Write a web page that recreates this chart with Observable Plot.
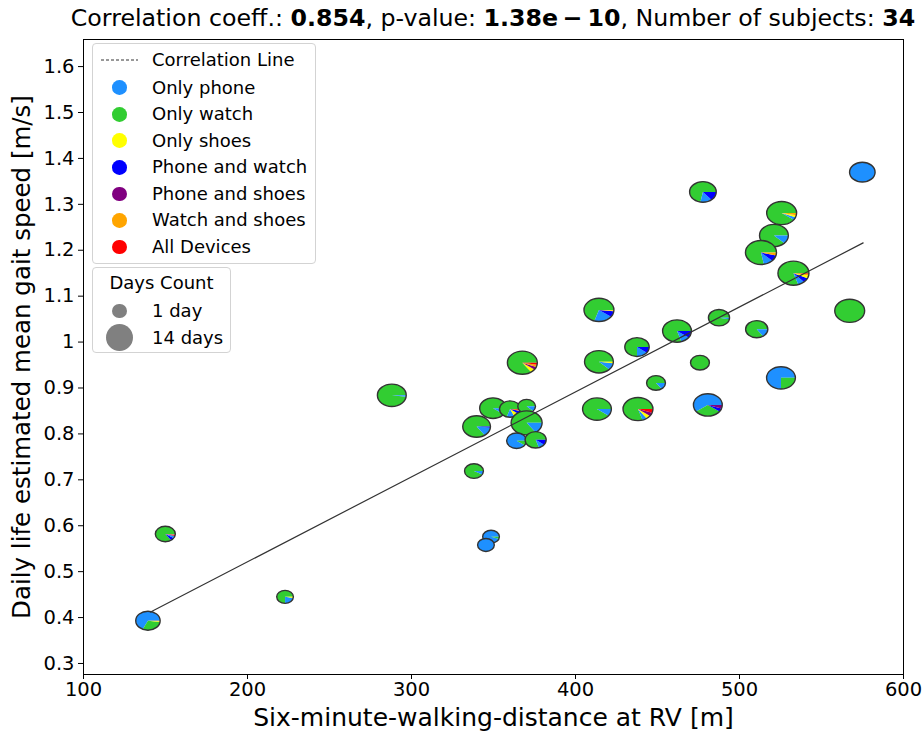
<!DOCTYPE html>
<html><head><meta charset="utf-8">
<script src="https://cdn.jsdelivr.net/npm/d3@7"></script>
<script src="https://cdn.jsdelivr.net/npm/@observablehq/plot@0.6"></script>
<style>
body{margin:0;background:#fff;font-family:"DejaVu Sans",sans-serif;color:#000;}
#wrap{position:relative;width:924px;height:733px;overflow:hidden;}
#title{position:relative;left:31px;height:34px;width:924px;text-align:center;font-size:23.7px;line-height:36px;white-space:nowrap;}
.lbox{position:absolute;border:1px solid #d3d3d3;border-radius:4px;background:rgba(255,255,255,0.85);box-sizing:border-box;}
.row{position:absolute;left:0;height:22px;line-height:22px;font-size:18px;white-space:nowrap;}
.dot{position:absolute;border-radius:50%;}
</style></head><body><div id="wrap"><div id="title"></div></div>
<script>
// ---- data ----
const sixMWD =     [139.6,150.2,223.2,288.3,340.0,350.0,360.4,370.5,370.5,364.4,376.0,367.9,338.4,348.8,345.7,414.6,414.6,413.4,438.4,437.8,449.4,462.2,476.2,478.0,487.8,481.0,510.8,526.0,521.3,513.4,533.2,575.2,567.5,525.6];
const gaitSpeed =  [0.392,0.581,0.444,0.883,0.815,0.855,0.853,0.859,0.823,0.784,0.786,0.954,0.718,0.575,0.557,1.069,0.956,0.853,0.853,0.988,0.910,1.023,0.954,1.326,1.052,0.862,1.027,1.280,1.231,1.194,1.149,1.369,1.067,0.921];
const daysCount =  [8,4,1,12,11,10,5,2,14,4,5,13,3,1,1,13,12,12,13,8,3,12,3,10,5,12,6,13,12,14,14,9,13,12];
// share of days per device combination (legend order)
const onlyPhone =      [0.68,0.05,0.22,0.02,0.13,0.10,0.12,0.12,0.15,0.90,0.10,0.00,0.08,0.95,1.00,0.20,0.10,0.10,0.05,0.15,0.15,0.10,0.00,0.14,0.03,0.60,0.15,0.04,0.12,0.10,0.07,1.00,0.00,0.75];
const onlyWatch =      [0.30,0.85,0.75,0.98,0.85,0.90,0.70,0.88,0.85,0.10,0.80,0.85,0.92,0.05,0.00,0.70,0.88,0.90,0.80,0.75,0.85,0.80,1.00,0.72,0.97,0.30,0.85,0.90,0.88,0.78,0.80,0.00,1.00,0.25];
const onlyShoes =      [0.01,0.01,0.03,0.00,0.00,0.00,0.08,0.00,0.00,0.00,0.00,0.05,0.00,0.00,0.00,0.01,0.02,0.00,0.05,0.00,0.00,0.00,0.00,0.00,0.00,0.00,0.00,0.03,0.00,0.00,0.04,0.00,0.00,0.00];
const phoneAndWatch =  [0.00,0.06,0.00,0.00,0.02,0.00,0.06,0.00,0.00,0.00,0.10,0.00,0.00,0.00,0.00,0.08,0.00,0.00,0.00,0.10,0.00,0.10,0.00,0.14,0.00,0.05,0.00,0.00,0.00,0.08,0.06,0.00,0.00,0.00];
const phoneAndShoes =  [0.00,0.01,0.00,0.00,0.00,0.00,0.00,0.00,0.00,0.00,0.00,0.04,0.00,0.00,0.00,0.00,0.00,0.00,0.05,0.00,0.00,0.00,0.00,0.00,0.00,0.05,0.00,0.00,0.00,0.00,0.00,0.00,0.00,0.00];
const watchAndShoes =  [0.01,0.00,0.00,0.00,0.00,0.00,0.02,0.00,0.00,0.00,0.00,0.03,0.00,0.00,0.00,0.01,0.00,0.00,0.00,0.00,0.00,0.00,0.00,0.00,0.00,0.00,0.00,0.03,0.00,0.04,0.02,0.00,0.00,0.00];
const allDevices =     [0.00,0.02,0.00,0.00,0.00,0.00,0.02,0.00,0.00,0.00,0.00,0.03,0.00,0.00,0.00,0.00,0.00,0.00,0.05,0.00,0.00,0.00,0.00,0.00,0.00,0.00,0.00,0.00,0.00,0.00,0.01,0.00,0.00,0.00];
const deviceLabels = ["Only phone","Only watch","Only shoes","Phone and watch","Phone and shoes","Watch and shoes","All Devices"];
const deviceColors = ["#1E90FF","#32CD32","#FFFF00","#0000FF","#800080","#FFA500","#FF0000"];
const corrLineX = [140.9, 575.4];
const corrLineY = [0.412, 1.216];
const xTicks = [100,200,300,400,500,600];
const yTicks = [0.3,0.4,0.5,0.6,0.7,0.8,0.9,1.0,1.1,1.2,1.3,1.4,1.5,1.6];
const daysLegend = [1, 14];
const titleParts = {r:"0.854", p:"1.38e\u2009\u2212\u200910", n:"34"};

// ---- build ----
const shares = [onlyPhone,onlyWatch,onlyShoes,phoneAndWatch,phoneAndShoes,watchAndShoes,allDevices];
const subjects = sixMWD.map((x,i)=>({x, y:gaitSpeed[i], days:daysCount[i], parts:shares.map(a=>a[i])}));
const lineData = corrLineX.map((x,i)=>({x, y:corrLineY[i]}));
const sizeScale = d3.scaleLinear().domain([1,14]).range([14.7,27.3]); // equivalent diameter, px

function pieMarks(index, scales, values, dim) {
  const g = d3.create("svg:g");
  const pw = dim.width - dim.marginLeft - dim.marginRight;
  const ph = dim.height - dim.marginTop - dim.marginBottom;
  const k = Math.sqrt(pw/ph);
  for (const s of subjects) {
    const cx = scales.x(s.x), cy = scales.y(s.y);
    const D = sizeScale(s.days);
    const rx = D/2*k, ry = D/2/k;
    const total = d3.sum(s.parts);
    let a = 0;
    // slices drawn counter-clockwise from 3 o'clock, largest first
    const items = s.parts.map((v,j)=>({v, j})).filter(d=>d.v>0).sort((p,q)=>q.v-p.v || p.j-q.j);
    for (const it of items) {
      const f = it.v/total;
      if (f >= 0.9999) {
        g.append("ellipse").attr("cx",cx).attr("cy",cy).attr("rx",rx).attr("ry",ry).attr("fill",deviceColors[it.j]);
        continue;
      }
      const a0 = a, a1 = a + f*2*Math.PI; a = a1;
      const x0 = cx + rx*Math.cos(a0), y0 = cy - ry*Math.sin(a0);
      const x1 = cx + rx*Math.cos(a1), y1 = cy - ry*Math.sin(a1);
      g.append("path")
        .attr("d", `M${cx},${cy}L${x0},${y0}A${rx},${ry} 0 ${f>0.5?1:0} 0 ${x1},${y1}Z`)
        .attr("fill", deviceColors[it.j]);
    }
    g.append("ellipse").attr("cx",cx).attr("cy",cy).attr("rx",rx).attr("ry",ry)
      .attr("fill","none").attr("stroke","#333").attr("stroke-width",1.4);
  }
  return g.node();
}

const chart = Plot.plot({
  width: 924, height: 699,
  marginLeft: 83, marginRight: 21, marginTop: 5, marginBottom: 59,
  style: {fontFamily: "DejaVu Sans, sans-serif", color: "#000", background: "#fff", overflow: "visible"},
  x: {domain: [100, 600]},
  y: {domain: [0.276, 1.659]},
  marks: [
    Plot.frame({stroke: "#000", strokeWidth: 1}),
    Plot.axisX({ticks: xTicks, tickSize: 5, tickPadding: 3, fontSize: 19.5, label: null, tickFormat: d => String(d)}),
    Plot.axisY({ticks: yTicks, tickSize: 5, tickPadding: 4, fontSize: 19.5, label: null, tickFormat: d => String(+d.toFixed(1))}),
    pieMarks,
    Plot.line(lineData, {x: "x", y: "y", stroke: "#333", strokeWidth: 1.2}),
    Plot.text(["Six-minute-walking-distance at RV [m]"], {frameAnchor: "bottom", dy: 43, fontSize: 25, lineAnchor: "middle", textAnchor: "middle"}),
    Plot.text(["Daily life estimated mean gait speed [m/s]"], {frameAnchor: "left", dx: -61, rotate: -90, fontSize: 24.5, lineAnchor: "middle", textAnchor: "middle"})
  ]
});

const wrap = document.getElementById("wrap");
document.getElementById("title").innerHTML =
  `Correlation coeff.: <b>${titleParts.r}</b>, p-value: <b>${titleParts.p}</b>, Number of subjects: <b>${titleParts.n}</b>`;
wrap.appendChild(chart);

// legend 1
const l1 = document.createElement("div");
l1.className = "lbox";
Object.assign(l1.style, {left:"92px", top:"43px", width:"224px", height:"221px"});
let html = `<div class="row" style="top:5px;left:8px;width:37px;"><svg width="37" height="22"><line x1="0" x2="37" y1="11" y2="11" stroke="#333" stroke-width="1" stroke-dasharray="3,2"/></svg></div>`;
html += `<div class="row" style="top:5px;left:59px;">Correlation Line</div>`;
deviceLabels.forEach((lab,i)=>{
  const cy = 43.7 + i*26.55;
  html += `<div class="dot" style="left:${26.3-7.35}px;top:${cy-7.35}px;width:14.7px;height:14.7px;background:${deviceColors[i]}"></div>`;
  html += `<div class="row" style="top:${cy-11}px;left:59px;">${lab}</div>`;
});
l1.innerHTML = html;
wrap.appendChild(l1);

// legend 2
const l2 = document.createElement("div");
l2.className = "lbox";
Object.assign(l2.style, {left:"92px", top:"267px", width:"139px", height:"86px"});
let h2 = `<div class="row" style="top:3.7px;width:137px;text-align:center;">Days Count</div>`;
daysLegend.forEach((d,i)=>{
  const cy = 43 + i*26.7, D = sizeScale(d);
  h2 += `<div class="dot" style="left:${26.3-D/2}px;top:${cy-D/2}px;width:${D}px;height:${D}px;background:#808080"></div>`;
  h2 += `<div class="row" style="top:${cy-11}px;left:59px;">${d} ${d===1?"day":"days"}</div>`;
});
l2.innerHTML = h2;
wrap.appendChild(l2);
</script></body></html>
